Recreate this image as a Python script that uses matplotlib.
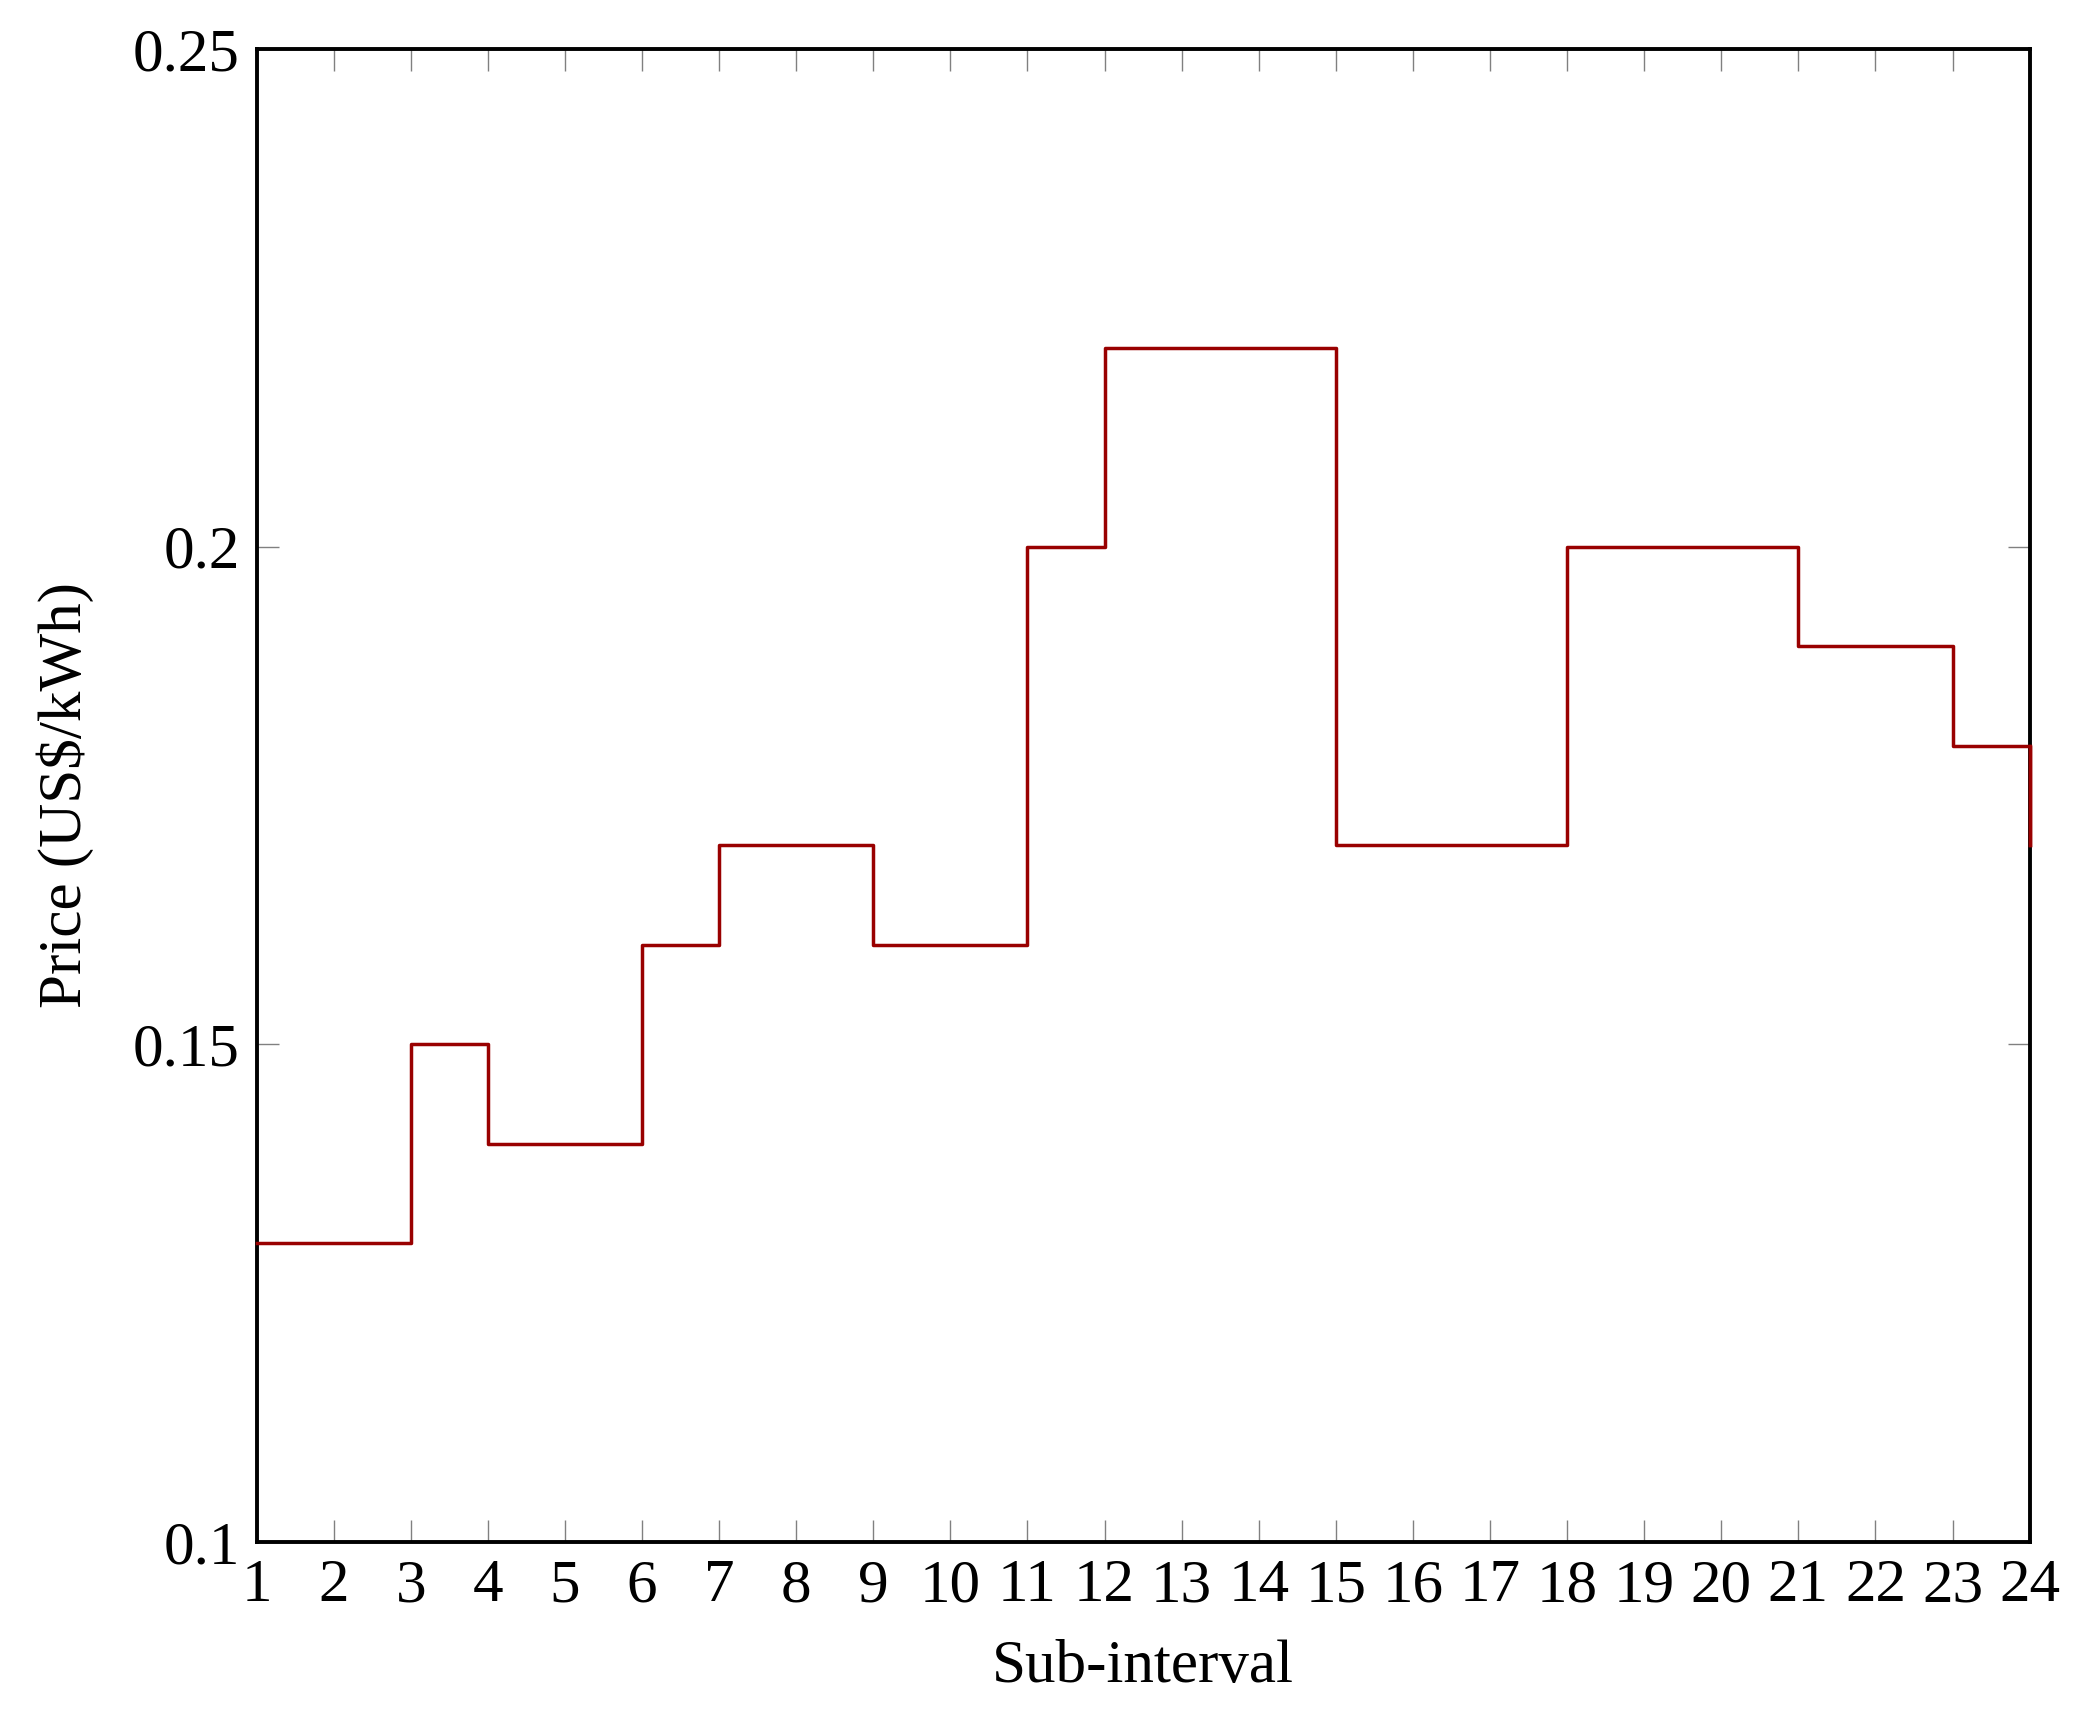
import matplotlib
matplotlib.use('Agg')
import matplotlib.pyplot as plt

plt.rcParams['font.family'] = ['Liberation Serif', 'DejaVu Serif']

sub_interval = list(range(1, 25))
price = [0.13, 0.13, 0.15, 0.14, 0.14, 0.16, 0.17, 0.17, 0.16, 0.16, 0.20, 0.22,
         0.22, 0.22, 0.17, 0.17, 0.17, 0.20, 0.20, 0.20, 0.19, 0.19, 0.18, 0.17]
y_ticks = [0.1, 0.15, 0.2, 0.25]
y_labels = ['0.1', '0.15', '0.2', '0.25']

fig = plt.figure(figsize=(20.84, 17.29), dpi=100)
ax = fig.add_axes([0.1231, 0.1082, 0.8508, 0.8635])

# const plot: hold each value until the next sub-interval,
# last point drops straight down at x=24 (drawn over the spine)
ax.step(sub_interval, price, where='post', color='#990000', lw=2.5,
        zorder=5, clip_on=False)
ax.plot([sub_interval[-1]] * 2, price[-2:], color='#990000', lw=2.5,
        zorder=5, clip_on=False)

ax.set_xlim(1, 24)
ax.set_ylim(0.1, 0.25)
ax.set_xticks(sub_interval)
ax.set_yticks(y_ticks)
ax.set_yticklabels(y_labels)

ax.tick_params(direction='in', length=16, width=1, color='#808080',
               top=True, right=True, labelsize=44, pad=12)
for s in ax.spines.values():
    s.set_linewidth(2.8)

ax.set_xlabel('Sub-interval', fontsize=44, labelpad=18)
ax.set_ylabel('Price (US$/kWh)', fontsize=44, labelpad=28)

fig.savefig('out.png', dpi=100)
